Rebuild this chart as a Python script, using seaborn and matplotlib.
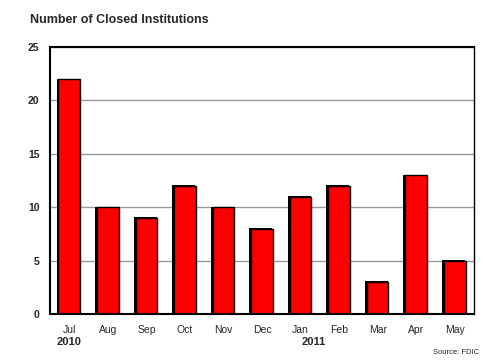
import matplotlib
matplotlib.use("Agg")
import matplotlib.pyplot as plt
import seaborn as sns
import pandas as pd

# Chart data
months = ["Jul", "Aug", "Sep", "Oct", "Nov", "Dec", "Jan", "Feb", "Mar", "Apr", "May"]
closed = [22, 10, 9, 12, 10, 8, 11, 12, 3, 13, 5]
year_labels = ["2010", "2011"]
year_pos = [0, 6.35]

df = pd.DataFrame({"Month": months, "Closed": closed})

sns.set_style("white")
plt.rcParams["font.family"] = ["Liberation Sans", "DejaVu Sans"]

fig = plt.figure(figsize=(4.87, 3.63), dpi=100)
ax = fig.add_axes([50 / 487, 1 - 314 / 363, 424 / 487, 267 / 363])

# shadow bars, shifted slightly left
sns.barplot(data=df, x="Month", y="Closed", color="black", width=0.6, ax=ax,
            saturation=1, edgecolor="black", linewidth=0)
for p in ax.patches:
    p.set_x(p.get_x() - 0.03)
    p.set_height(p.get_height() + 0.05)

sns.barplot(data=df, x="Month", y="Closed", color="#ff0000", width=0.56, ax=ax,
            saturation=1, edgecolor="black", linewidth=1)

ax.set_ylim(0, 25)
ax.set_xlim(-0.5, len(months) - 0.5)
ax.set_yticks(range(0, 26, 5))
ax.yaxis.grid(True, color="#999999", linewidth=1)
ax.set_axisbelow(True)

ax.set_xlabel("")
ax.set_ylabel("")
ax.set_xticks([i + 0.5 for i in range(-1, len(months))], minor=False)
ax.set_xticklabels([])
ax.set_xticks(range(len(months)), minor=True)
ax.set_xticklabels(months, minor=True, fontsize=7.5)
ax.tick_params(axis="x", which="major", direction="out", length=4, width=1.2, color="black")
ax.tick_params(axis="x", which="minor", length=0, pad=8)
ax.tick_params(axis="y", direction="out", length=4, width=1.2, color="black", labelsize=7.5)
for lbl in ax.get_yticklabels():
    lbl.set_fontweight("bold")

for s in ax.spines.values():
    s.set_visible(True)
    s.set_color("black")
ax.spines["left"].set_linewidth(1.5)
ax.spines["top"].set_linewidth(1.5)
ax.spines["bottom"].set_linewidth(1.5)
ax.spines["right"].set_linewidth(1)

for lab, pos in zip(year_labels, year_pos):
    ax.text(pos, -0.085, lab, transform=ax.get_xaxis_transform(), ha="center", va="top",
            fontsize=8, fontweight="bold")

fig.text(30 / 487, 1 - 20 / 363, "Number of Closed Institutions", fontsize=9,
         fontweight="bold", va="center", ha="left")
fig.text(1 - 8 / 487, 1 - 353 / 363, "Source: FDIC", fontsize=5.5, ha="right", va="center")

fig.savefig("out.png", dpi=100)
